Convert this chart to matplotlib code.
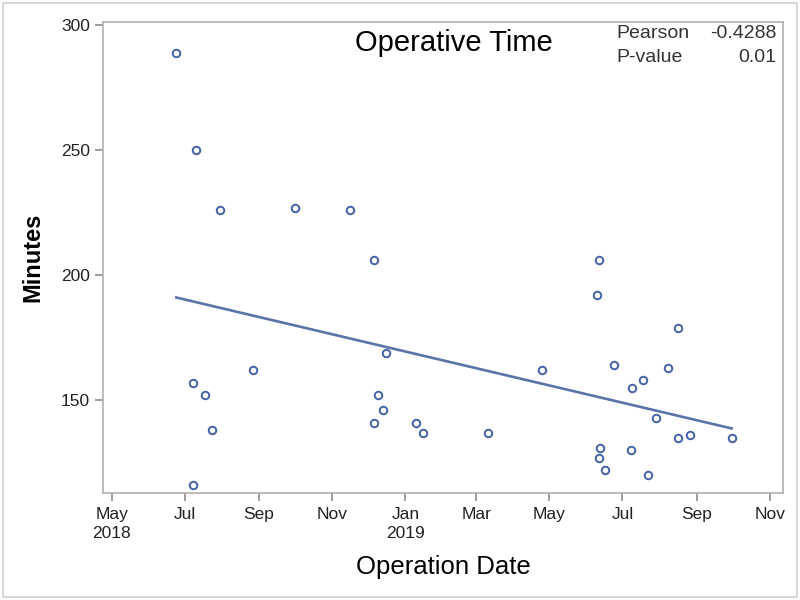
import datetime as dt
import numpy as np
import matplotlib
matplotlib.use("Agg")
import matplotlib.pyplot as plt
import matplotlib.dates as mdates
from matplotlib.patches import Rectangle

plt.rcParams['font.family'] = ['Liberation Sans', 'DejaVu Sans']

# operation dates and operative time (minutes)
dates = ["2018-06-24", "2018-07-10", "2018-07-30", "2018-07-08", "2018-07-18",
         "2018-07-24", "2018-07-08", "2018-08-27", "2018-10-01", "2018-11-16",
         "2018-12-06", "2018-12-16", "2018-12-09", "2018-12-13", "2018-12-06",
         "2019-01-10", "2019-01-16", "2019-03-11", "2019-04-25", "2019-06-11",
         "2019-06-10", "2019-06-24", "2019-07-09", "2019-07-18", "2019-08-08",
         "2019-08-16", "2019-07-29", "2019-08-16", "2019-08-26", "2019-09-30",
         "2019-06-12", "2019-06-11", "2019-06-16", "2019-07-08", "2019-07-22"]
minutes = [289, 250, 226, 157, 152,
           138, 116, 162, 227, 226,
           206, 169, 152, 146, 141,
           141, 137, 137, 162, 206,
           192, 164, 155, 158, 163,
           179, 143, 135, 136, 135,
           131, 127, 122, 130, 120]

pearson_txt = "-0.4288"
pvalue_txt = "0.01"

x = np.array([mdates.datestr2num(d) for d in dates])
y = np.array(minutes, dtype=float)

blue = '#4662a6'
grey = '#8c8c8c'
narrow = ['Liberation Sans Narrow', 'Liberation Sans', 'DejaVu Sans']

fig = plt.figure(figsize=(8, 6), dpi=100)
ax = fig.add_axes([0.129, 0.178, 0.850, 0.785])

ax.plot(x, y, linestyle='none', marker='o', markersize=5.4, markerfacecolor='none',
        markeredgecolor=blue, markeredgewidth=1.4)

# regression line over the range of the data
k, b = np.polyfit(x, y, 1)
xs = np.array([x.min(), x.max()])
ax.plot(xs, k * xs + b, color='#5a74a8', linewidth=1.9)

ax.set_xlim(mdates.datestr2num("2018-04-24"), mdates.datestr2num("2019-11-12"))
ax.set_ylim(112.8, 301.2)
ax.set_yticks([150, 200, 250, 300])

ticks = [dt.date(2018, 5, 1), dt.date(2018, 7, 1), dt.date(2018, 9, 1), dt.date(2018, 11, 1),
         dt.date(2019, 1, 1), dt.date(2019, 3, 1), dt.date(2019, 5, 1), dt.date(2019, 7, 1),
         dt.date(2019, 9, 1), dt.date(2019, 11, 1)]
labels = ["May\n2018", "Jul", "Sep", "Nov", "Jan\n2019", "Mar", "May", "Jul", "Sep", "Nov"]
ax.set_xticks(mdates.date2num(ticks))
ax.set_xticklabels(labels, linespacing=1.3, va='top')

for s in ax.spines.values():
    s.set_color('#b0b0b0')
    s.set_linewidth(1.2)
ax.tick_params(axis='both', colors=grey, labelcolor='#222222', labelsize=12.5,
               length=6, width=1.2)
ax.tick_params(axis='x', pad=4)
for lab in ax.get_xticklabels() + ax.get_yticklabels():
    lab.set_family(narrow)

ax.set_xlabel("Operation Date", fontsize=18.5, labelpad=10)
ax.set_ylabel("Minutes", fontsize=17, fontweight='bold', labelpad=12)

ax.text(0.515, 0.985, "Operative Time", transform=ax.transAxes, fontsize=21,
        ha='center', va='top')
ax.text(0.755, 0.993, "Pearson", transform=ax.transAxes, fontsize=14, ha='left', va='top',
        color='#333333')
ax.text(0.755, 0.944, "P-value", transform=ax.transAxes, fontsize=14, ha='left', va='top',
        color='#333333')
ax.text(0.99, 0.993, pearson_txt, transform=ax.transAxes, fontsize=14, ha='right', va='top',
        color='#333333')
ax.text(0.99, 0.944, pvalue_txt, transform=ax.transAxes, fontsize=14, ha='right', va='top',
        color='#333333')

fig.patches.append(Rectangle((0.004, 0.005), 0.992, 0.99, transform=fig.transFigure,
                             fill=False, edgecolor='#d8d8d8', linewidth=1.5))

fig.savefig("out.png", dpi=100)
